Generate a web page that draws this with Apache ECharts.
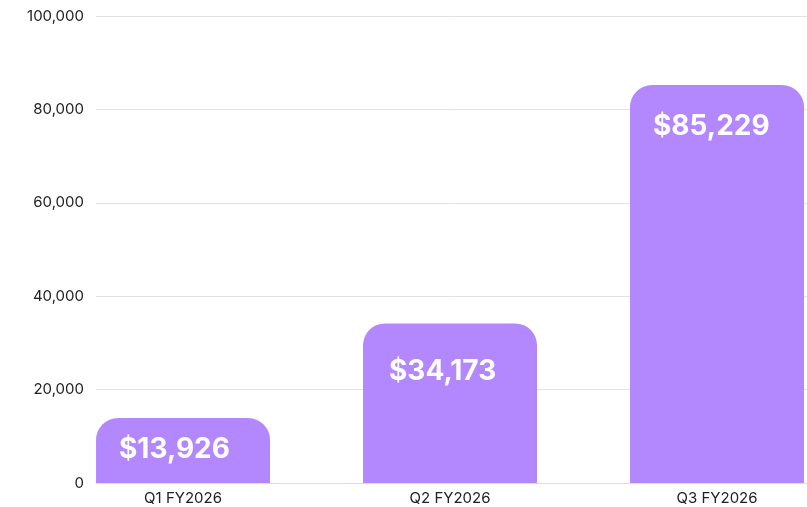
<!DOCTYPE html>
<html><head><meta charset="utf-8">
<script src="https://cdn.jsdelivr.net/npm/echarts@6/dist/echarts.min.js"></script>
<style>html,body{margin:0;padding:0;background:#fff}#c{width:807px;height:507px}</style>
</head><body><div id="c"></div>
<script>
const categories = ['Q1 FY2026', 'Q2 FY2026', 'Q3 FY2026'];
const revenue = [13926, 34173, 85229];
const yTicks = [0, 20000, 40000, 60000, 80000, 100000];

const labelOffsets = [[0, -5], [3, 11], [0, 5]];
const chart = echarts.init(document.getElementById('c'), null, {renderer: 'canvas'});
const fmt = v => v.toLocaleString('en-US');
chart.setOption({
  animation: false,
  grid: {left: 96, right: 0, top: 16, bottom: 24, containLabel: false},
  xAxis: {
    type: 'value', min: -0.326, max: 2.337,
    axisLine: {show: true, lineStyle: {color: '#dedede'}},
    axisTick: {show: false},
    splitLine: {show: false},
    axisLabel: {
      customValues: [0, 1, 2],
      formatter: v => categories[Math.round(v)] || '',
      color: '#222', fontFamily: 'Inter', fontSize: 15, margin: 8
    }
  },
  yAxis: {
    type: 'value', min: 0, max: 100000, interval: 20000,
    axisLine: {show: false}, axisTick: {show: false},
    splitLine: {lineStyle: {color: '#e2e2e2'}},
    axisLabel: {formatter: v => fmt(v), color: '#222', fontFamily: 'Inter', fontSize: 15, margin: 12}
  },
  series: [{
    type: 'bar',
    barWidth: 174,
    data: revenue.map((v, i) => ({
      value: [i, v],
      label: {offset: labelOffsets[i]}
    })),
    itemStyle: {color: '#b388ff', borderRadius: [22, 22, 0, 0]},
    label: {
      show: true, position: 'insideTopLeft', distance: 23,
      formatter: p => '$' + fmt(p.value[1]),
      color: '#fff', fontFamily: 'Inter', fontWeight: 'bold', fontSize: 28
    }
  }]
});
</script></body></html>
